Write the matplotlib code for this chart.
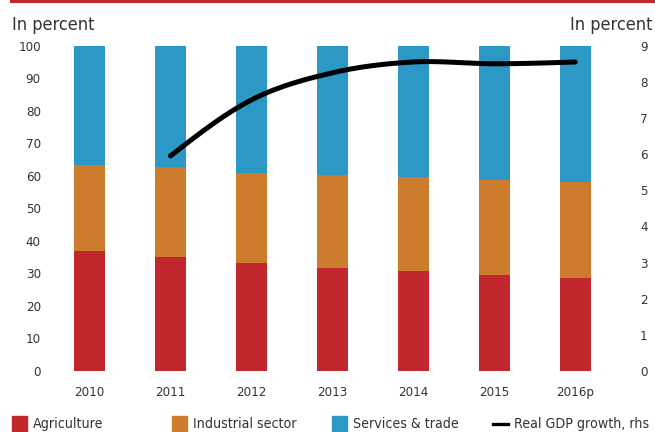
import numpy as np
import matplotlib
matplotlib.use("Agg")
import matplotlib.pyplot as plt
from matplotlib import font_manager
from matplotlib.patches import Rectangle
from matplotlib.lines import Line2D

years = ["2010", "2011", "2012", "2013", "2014", "2015", "2016p"]
agriculture = [37.0, 35.1, 33.2, 31.7, 30.8, 29.5, 28.6]
industry = [26.4, 27.6, 27.7, 28.4, 28.8, 29.3, 29.6]
services = [36.6, 37.3, 39.1, 39.9, 40.4, 41.2, 41.8]
gdp_years = [1, 2, 3, 4, 5, 6]
gdp_growth = [5.95, 7.5, 8.25, 8.55, 8.5, 8.55]

labels = ["Agriculture", "Industrial sector", "Services & trade", "Real GDP growth, rhs"]
RED, ORANGE, BLUE = "#C1272D", "#CD7B2C", "#2B98C6"
TXT = "#333333"

# look for a narrow sans face; otherwise fall back to Liberation Sans, a bit smaller
narrow = None
for f in font_manager.fontManager.ttflist:
    nm = f.name.lower()
    if ("narrow" in nm or "condensed" in nm or "condensed" in str(f.stretch)) \
            and "serif" not in nm and "mono" not in nm and f.weight in (400, "normal", "regular") \
            and f.style == "normal":
        narrow = f
        break

if narrow is not None:
    font_manager.fontManager.addfont(narrow.fname)
    plt.rcParams["font.family"] = narrow.name
    if "condensed" in str(narrow.stretch):
        plt.rcParams["font.stretch"] = narrow.stretch
    tick_fs, head_fs, leg_fs = 9.5, 13, 10.2
else:
    plt.rcParams["font.family"] = "Liberation Sans"
    tick_fs, head_fs, leg_fs = 9, 11, 8.5

W, H = 655, 432
fig = plt.figure(figsize=(W / 100, H / 100), dpi=100)

def fx(px):
    return px / W

def fy(py):
    return 1 - py / H

# plot area in pixels
left, right, top, bottom = 45, 636, 45.7, 371
ax = fig.add_axes([fx(left), fy(bottom), fx(right) - fx(left), fy(top) - fy(bottom)])
x = np.arange(len(years))
w = 0.38
ax.bar(x, agriculture, w, color=RED)
ax.bar(x, industry, w, bottom=agriculture, color=ORANGE)
ax.bar(x, services, w, bottom=np.add(agriculture, industry), color=BLUE)
ax.set_xlim(-0.55, 6.75)
ax.set_ylim(0, 100)
ax.set_yticks(range(0, 101, 10))
ax.set_xticks(x)
ax.set_xticklabels(years)
ax.tick_params(axis="both", length=0, colors=TXT, labelsize=tick_fs)
ax.tick_params(axis="x", pad=11)
ax.tick_params(axis="y", pad=3)
for s in ax.spines.values():
    s.set_visible(False)

ax2 = ax.twinx()
ax2.set_ylim(0, 9)
ax2.set_yticks(range(0, 10))
ax2.tick_params(axis="y", length=0, colors=TXT, labelsize=tick_fs, pad=3)
for s in ax2.spines.values():
    s.set_visible(False)

# smooth line through the data points (cubic Hermite, natural-style end tangents)
gx = np.array(gdp_years, float)
gy = np.array(gdp_growth, float)
n = len(gx)
mx = np.ones(n)
my = np.zeros(n)
for i in range(1, n - 1):
    my[i] = (gy[i + 1] - gy[i - 1]) / 2
my[0] = (3 * (gy[1] - gy[0]) - my[1]) / 2
my[-1] = (3 * (gy[-1] - gy[-2]) - my[-2]) / 2
sx, sy = [], []
for i in range(n - 1):
    t = np.linspace(0, 1, 40)
    h00 = 2 * t**3 - 3 * t**2 + 1
    h10 = t**3 - 2 * t**2 + t
    h01 = -2 * t**3 + 3 * t**2
    h11 = t**3 - t**2
    sx.extend(h00 * gx[i] + h10 * mx[i] + h01 * gx[i + 1] + h11 * mx[i + 1])
    sy.extend(h00 * gy[i] + h10 * my[i] + h01 * gy[i + 1] + h11 * my[i + 1])
ax2.plot(sx, sy, color="black", lw=3.6, solid_capstyle="round")

# top rule
fig.add_artist(Line2D([fx(11), 1], [fy(1.2), fy(1.2)], color=RED, lw=2.2))

fig.text(fx(12), fy(30), "In percent", fontsize=head_fs, color=TXT, va="baseline", ha="left")
fig.text(fx(652), fy(30), "In percent", fontsize=head_fs, color=TXT, va="baseline", ha="right")

# legend
lx = [11.7, 171.7, 331.7, 493]
colors = [RED, ORANGE, BLUE, "black"]
for i in range(4):
    if i < 3:
        fig.add_artist(Rectangle((fx(lx[i]), fy(431)), fx(15), fy(416) - fy(431),
                                 color=colors[i], transform=fig.transFigure))
        tx = lx[i] + 21
    else:
        fig.add_artist(Line2D([fx(493), fx(508)], [fy(424), fy(424)], color="black", lw=2.4))
        tx = 514
    fig.text(fx(tx), fy(428.3), labels[i], fontsize=leg_fs, color=TXT, va="baseline", ha="left")

fig.savefig("out.png", dpi=100)
